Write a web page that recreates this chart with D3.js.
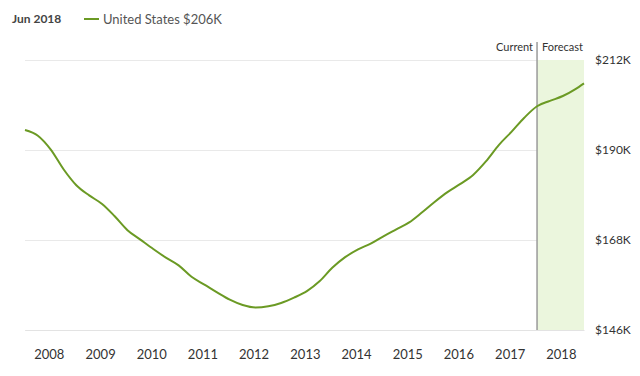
<!DOCTYPE html>
<html>
<head>
<meta charset="utf-8">
<script src="https://cdn.jsdelivr.net/npm/d3@7"></script>
<style>
  body { margin: 0; background: #fff; }
  text { font-family: Lato, "Open Sans", sans-serif; }
</style>
</head>
<body>
<script>
// quarterly home value index, thousands of dollars
var months = ["2007-07","2007-10","2008-01","2008-04","2008-07","2008-10","2009-01","2009-04",
  "2009-07","2009-10","2010-01","2010-04","2010-07","2010-10","2011-01","2011-04","2011-07",
  "2011-10","2012-01","2012-04","2012-07","2012-10","2013-01","2013-04","2013-07","2013-10",
  "2014-01","2014-04","2014-07","2014-10","2015-01","2015-04","2015-07","2015-10","2016-01",
  "2016-04","2016-07","2016-10","2017-01","2017-04","2017-07","2017-10","2018-01","2018-04","2018-06"];
var values = [194.9,193.5,190.1,185.3,181.4,178.9,176.8,173.8,170.4,168.1,165.8,163.7,161.8,
  159.0,157.1,155.2,153.4,152.1,151.5,151.8,152.6,153.9,155.5,157.9,161.2,163.8,165.7,167.1,
  168.9,170.6,172.3,174.7,177.3,179.7,181.7,183.9,187.2,191.2,194.5,197.9,200.7,202.0,203.2,204.9,206.3];
var yTicks = [146, 168, 190, 212];
var currentMonth = "2017-07";
var headerLabel = "Jun 2018";
var seriesLabel = "United States $206K";

var parse = d3.timeParse("%Y-%m");
var data = months.map(function(m, i) { return { date: parse(m), value: values[i] }; });

var width = 640, height = 376;
var plotLeft = 25, plotRight = 584, plotTop = 60, plotBottom = 330;
var green = "#6b9a24";

var svg = d3.select("body").append("svg")
  .attr("width", width)
  .attr("height", height);

var x = d3.scaleTime()
  .domain(d3.extent(data, d => d.date))
  .range([plotLeft, plotRight]);
var y = d3.scaleLinear()
  .domain([146, 212])
  .range([plotBottom, plotTop]);

// gridlines
var grid = svg.append("g")
  .attr("transform", "translate(" + plotLeft + ",0)")
  .call(d3.axisRight(y).tickValues(yTicks).tickSize(plotRight - plotLeft).tickFormat(""));
grid.select(".domain").remove();
grid.selectAll("line").attr("stroke", "#e9e9e9");

// forecast band + current marker
var cur = x(parse(currentMonth));
svg.append("rect")
  .attr("x", cur).attr("y", plotTop)
  .attr("width", x(data[data.length - 1].date) - cur)
  .attr("height", plotBottom - plotTop)
  .attr("fill", "#ebf6dd");
svg.append("line")
  .attr("x1", cur).attr("x2", cur)
  .attr("y1", 42).attr("y2", plotBottom)
  .attr("stroke", "#9a9a9a").attr("stroke-width", 1.5);
svg.append("text")
  .attr("x", cur - 4).attr("y", 51)
  .attr("text-anchor", "end")
  .attr("font-size", 11).attr("fill", "#333")
  .text("Current");
svg.append("text")
  .attr("x", cur + 5).attr("y", 51)
  .attr("font-size", 11).attr("fill", "#333")
  .text("Forecast");

// line
var line = d3.line()
  .x(d => x(d.date))
  .y(d => y(d.value))
  .curve(d3.curveMonotoneX);
svg.append("path")
  .datum(data)
  .attr("fill", "none")
  .attr("stroke", green)
  .attr("stroke-width", 2)
  .attr("d", line);

// x axis
var xAxis = svg.append("g")
  .attr("transform", "translate(0," + plotBottom + ")")
  .call(d3.axisBottom(x).ticks(d3.timeYear.every(1)).tickFormat(d3.timeFormat("%Y")).tickSize(0).tickSizeOuter(0));
xAxis.select(".domain").attr("stroke", "#e3e3e3");
xAxis.selectAll("text")
  .attr("y", 24).attr("dy", "0.35em").attr("dx", -2)
  .attr("font-family", null)
  .attr("font-size", 13).attr("fill", "#333");

// y axis labels
var yAxis = svg.append("g")
  .attr("transform", "translate(595,0)")
  .call(d3.axisRight(y).tickValues(yTicks).tickFormat(d => "$" + d + "K").tickSize(0));
yAxis.select(".domain").remove();
yAxis.selectAll("text")
  .attr("x", 0)
  .attr("font-family", null)
  .attr("font-size", 12).attr("fill", "#333");

// header / legend
svg.append("text")
  .attr("x", 12).attr("y", 19).attr("dy", "0.35em")
  .attr("font-size", 12).attr("font-weight", "bold").attr("fill", "#444")
  .text(headerLabel);
svg.append("line")
  .attr("x1", 84).attr("x2", 99)
  .attr("y1", 19).attr("y2", 19)
  .attr("stroke", green).attr("stroke-width", 2);
svg.append("text")
  .attr("x", 103).attr("y", 19).attr("dy", "0.35em")
  .attr("font-size", 13).attr("fill", "#555")
  .text(seriesLabel);
</script>
</body>
</html>
